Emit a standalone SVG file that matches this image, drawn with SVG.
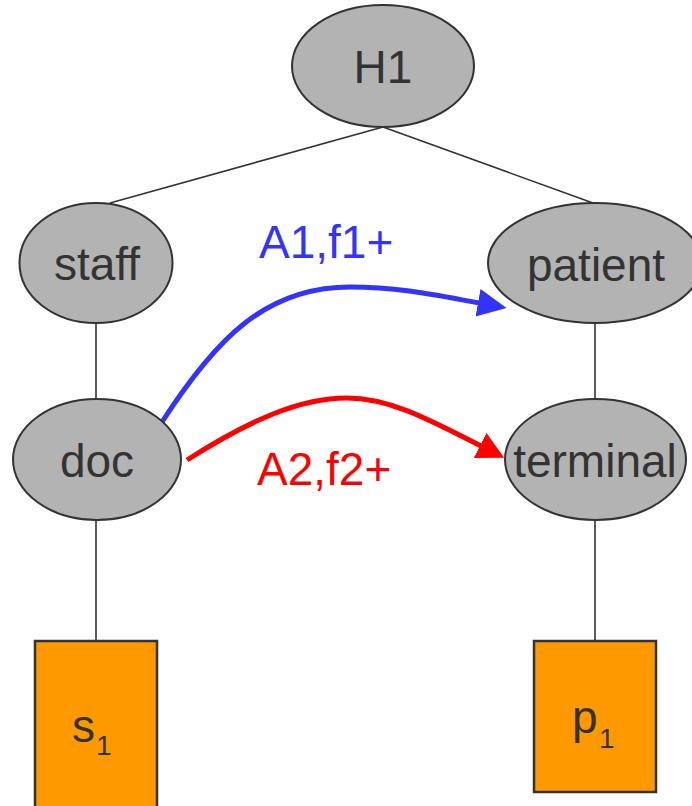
<svg xmlns="http://www.w3.org/2000/svg" width="692" height="806" viewBox="0 0 692 806">
<style>
.node{fill:#b3b3b3;stroke:#333;stroke-width:2}
.leaf{fill:#ff9900;stroke:#333;stroke-width:2.5}
.lbl{font-family:"Liberation Sans",Arial,sans-serif;font-size:46px;fill:#333;text-anchor:middle}
.sub{font-family:"Liberation Sans",Arial,sans-serif;font-size:46px;fill:#333}
.edge{stroke:#333;stroke-width:1.6;fill:none}
.arc{fill:none;stroke-width:5}
.alab{font-family:"Liberation Sans",Arial,sans-serif;font-size:46px}
</style>
<defs>
<marker id="ahBlue" markerUnits="userSpaceOnUse" markerWidth="30" markerHeight="30" refX="1" refY="15" orient="auto">
<path d="M0,1 L29,15 L0,29 z" fill="#3333ff"/>
</marker>
<marker id="ahRed" markerUnits="userSpaceOnUse" markerWidth="30" markerHeight="30" refX="1" refY="14" orient="auto">
<path d="M0,0 L27,14 L0,28 z" fill="#ff0000"/>
</marker>
</defs>
<rect width="692" height="806" fill="#fff"/>
<g id="connectors">
<line class="edge" x1="383" y1="127" x2="110" y2="203"/>
<line class="edge" x1="383" y1="127" x2="593" y2="203"/>
<line class="edge" x1="96" y1="323" x2="96" y2="399"/>
<line class="edge" x1="595" y1="323" x2="595" y2="399"/>
<line class="edge" x1="96" y1="520" x2="96" y2="641"/>
<line class="edge" x1="595" y1="520" x2="595" y2="641"/>
<path class="arc" stroke="#3333ff" d="M162,422 C215,340 265,287 350,287 C400,287 440,296 479,303" marker-end="url(#ahBlue)"/>
<path class="arc" stroke="#ff0000" d="M187,460 C250,420 300,398 347,398 C390,398 430,420 481,446" marker-end="url(#ahRed)"/>
<text class="alab" x="259" y="258" fill="#3333ff">A1,f1+</text>
<text class="alab" x="257" y="485" fill="#ff0000">A2,f2+</text>
</g>
<g id="H1">
<ellipse class="node" cx="383" cy="66" rx="91" ry="61"/>
<text class="lbl" x="383" y="83">H1</text>
</g>
<g id="staff">
<ellipse class="node" cx="96" cy="263" rx="76.5" ry="60"/>
<text class="lbl" x="97" y="280">staff</text>
</g>
<g id="patient">
<ellipse class="node" cx="595" cy="263" rx="107" ry="60"/>
<text class="lbl" x="596" y="281">patient</text>
</g>
<g id="doc">
<ellipse class="node" cx="97" cy="459.5" rx="84" ry="60.5"/>
<text class="lbl" x="97" y="477">doc</text>
</g>
<g id="terminal">
<ellipse class="node" cx="595.5" cy="459.5" rx="90.5" ry="60.5"/>
<text class="lbl" x="595" y="477">terminal</text>
</g>
<g id="s1">
<rect class="leaf" x="35" y="641" width="122" height="190"/>
<text class="sub" x="72" y="742">s<tspan x="96" dy="13" font-size="28">1</tspan></text>
</g>
<g id="p1">
<rect class="leaf" x="534" y="641" width="122" height="151"/>
<text class="sub" x="572" y="733">p<tspan x="599" dy="15" font-size="28">1</tspan></text>
</g>
</svg>
